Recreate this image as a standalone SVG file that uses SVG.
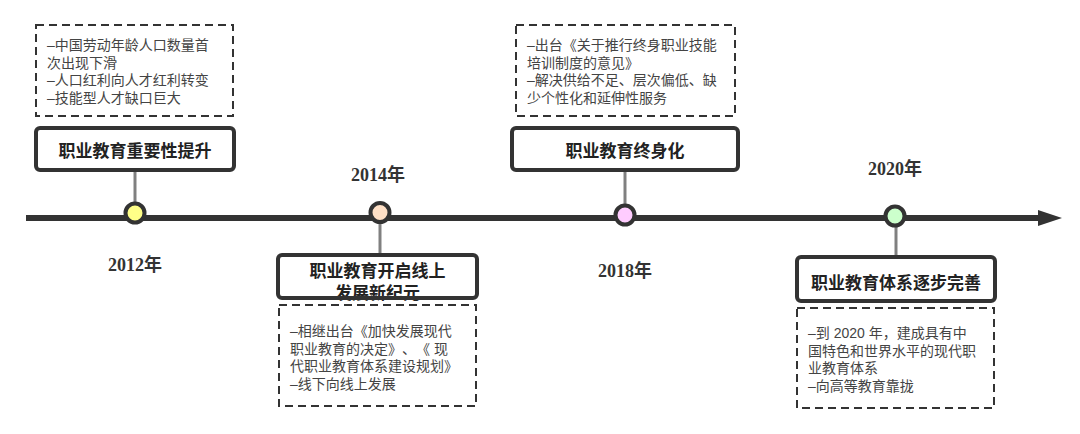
<svg xmlns="http://www.w3.org/2000/svg" width="1080" height="434" viewBox="0 0 1080 434">
<defs>
<style>
.title{fill:#fff;stroke:#333;stroke-width:4}
.note{fill:#fff;stroke:#333;stroke-width:2;stroke-dasharray:8 5}
.tt{font-family:"Liberation Sans","Noto Sans CJK SC",sans-serif;font-size:17px;font-weight:bold;fill:#222;text-anchor:middle;text-spacing-trim:space-all}
.bt{font-family:"Liberation Sans","Noto Sans CJK SC",sans-serif;font-size:14px;fill:#444;text-spacing-trim:space-all}
.yr{font-family:"Liberation Serif","Noto Sans CJK SC",serif;font-size:18px;font-weight:bold;fill:#333;text-anchor:middle}
.stub{stroke:#808080;stroke-width:3}
.dot{stroke:#333;stroke-width:4}
</style>
<marker id="ah" markerUnits="userSpaceOnUse" markerWidth="26" markerHeight="16" refX="0" refY="8" orient="auto">
<path d="M0,0 L24,8 L0,16 Z" fill="#333"/>
</marker>
</defs>
<rect width="1080" height="434" fill="#fff"/>
<g id="connectors">
<line x1="26" y1="218" x2="1038" y2="218" stroke="#333" stroke-width="6" marker-end="url(#ah)"/>
<line class="stub" x1="135" y1="170" x2="135" y2="212"/>
<line class="stub" x1="380" y1="213" x2="380" y2="255"/>
<line class="stub" x1="625" y1="168" x2="625" y2="215"/>
<line class="stub" x1="896" y1="216" x2="896" y2="257"/>
</g>
<g id="n2012">
<rect class="note" x="36" y="25" width="197" height="91"/>
<text class="bt" x="47" y="50">–中国劳动年龄人口数量首</text>
<text class="bt" x="47" y="67.5">次出现下滑</text>
<text class="bt" x="47" y="85">–人口红利向人才红利转变</text>
<text class="bt" x="47" y="102.5">–技能型人才缺口巨大</text>
<rect class="title" x="36" y="128" width="198" height="42" rx="4"/>
<text class="tt" x="135" y="157">职业教育重要性提升</text>
<circle class="dot" cx="135" cy="213" r="9.5" fill="#ffff88"/>
<text class="yr" x="135" y="271">2012年</text>
</g>
<g id="n2014">
<text class="yr" x="378" y="181">2014年</text>
<circle class="dot" cx="380" cy="212.5" r="9.5" fill="#ffe0c6"/>
<text class="tt" x="377.5" y="276.5">职业教育开启线上</text>
<text class="tt" x="377.5" y="298.5">发展新纪元</text>
<rect x="278" y="255" width="199" height="43" rx="4" fill="none" stroke="#333" stroke-width="4"/>
<rect class="note" x="279" y="305" width="197" height="101"/>
<text class="bt" x="290" y="336">–相继出台《加快发展现代</text>
<text class="bt" x="290" y="353.5">职业教育的决定》、《 现</text>
<text class="bt" x="290" y="371">代职业教育体系建设规划》</text>
<text class="bt" x="290" y="388.5">–线下向线上发展</text>
</g>
<g id="n2018">
<rect class="note" x="516" y="25" width="219" height="91"/>
<text class="bt" x="527" y="50">–出台《关于推行终身职业技能</text>
<text class="bt" x="527" y="67.5">培训制度的意见》</text>
<text class="bt" x="527" y="85">–解决供给不足、层次偏低、缺</text>
<text class="bt" x="527" y="102.5">少个性化和延伸性服务</text>
<rect class="title" x="512" y="128" width="226" height="42" rx="4"/>
<text class="tt" x="625" y="157">职业教育终身化</text>
<circle class="dot" cx="625" cy="215" r="9.5" fill="#ffccff"/>
<text class="yr" x="625" y="277">2018年</text>
</g>
<g id="n2020">
<text class="yr" x="895" y="175">2020年</text>
<circle class="dot" cx="895" cy="216" r="9.5" fill="#ccffcc"/>
<rect class="title" x="797" y="257" width="198" height="44" rx="4"/>
<text class="tt" x="896" y="288.5">职业教育体系逐步完善</text>
<rect class="note" x="797" y="308" width="197" height="100"/>
<text class="bt" x="808" y="338">–到 2020 年，建成具有中</text>
<text class="bt" x="808" y="355.5">国特色和世界水平的现代职</text>
<text class="bt" x="808" y="373">业教育体系</text>
<text class="bt" x="808" y="390.5">–向高等教育靠拢</text>
</g>
</svg>
